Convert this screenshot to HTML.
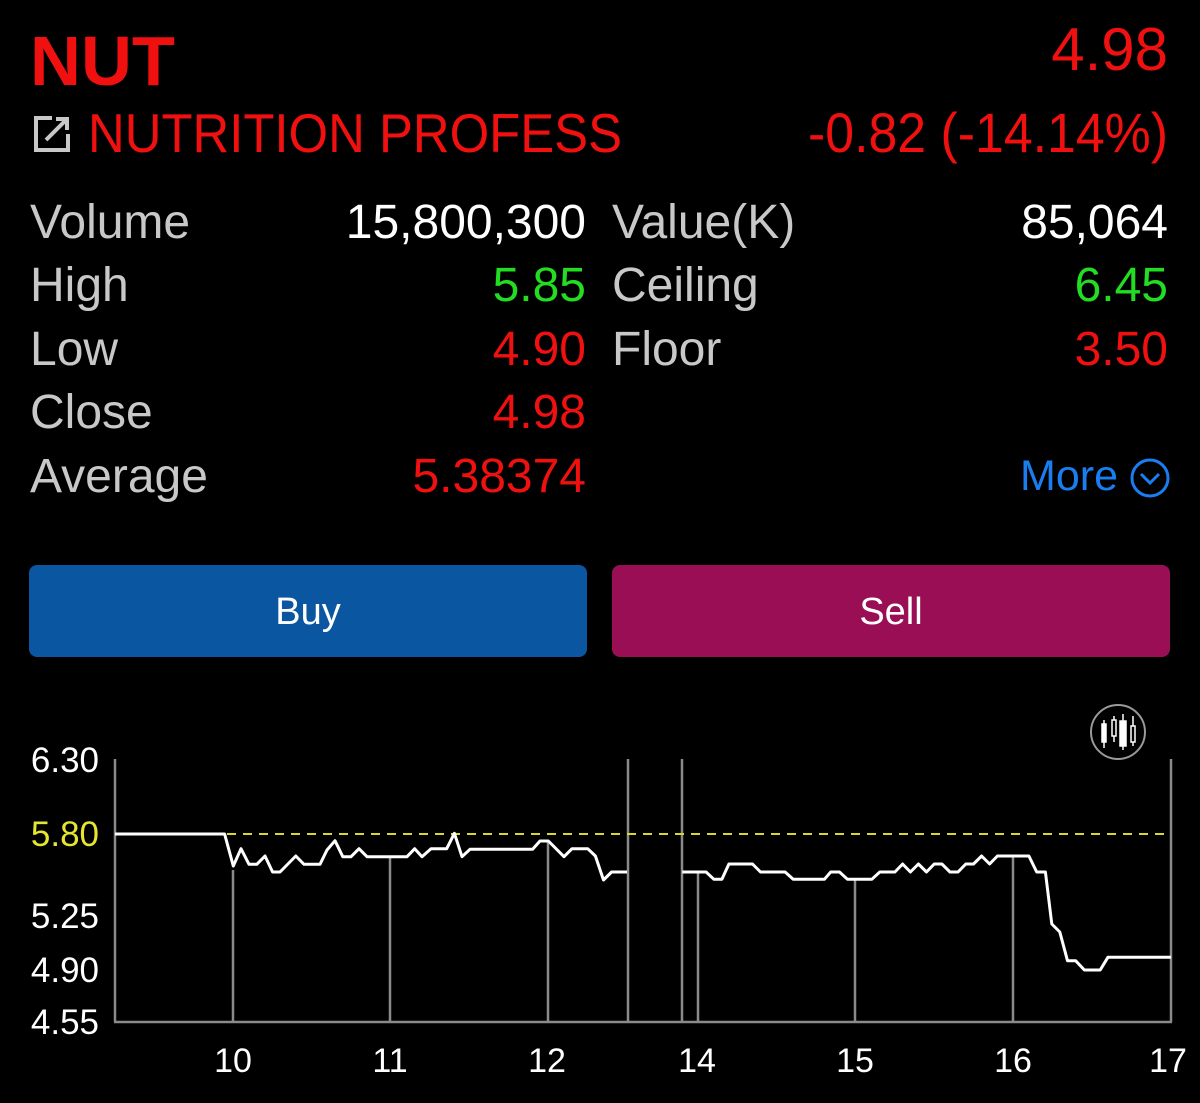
<!DOCTYPE html>
<html><head><meta charset="utf-8"><style>
html,body{margin:0;padding:0;background:#000;}
svg{display:block;}
text{font-family:"Liberation Sans",sans-serif;}
</style></head><body>
<svg width="1200" height="1103" viewBox="0 0 1200 1103" xmlns="http://www.w3.org/2000/svg">
<rect width="1200" height="1103" fill="#000"/>
<text x="30" y="85" font-size="70" font-weight="bold" fill="#f01010" textLength="145" lengthAdjust="spacingAndGlyphs">NUT</text>
<text x="1168" y="70" font-size="60" fill="#f01010" text-anchor="end">4.98</text>
<g stroke="#c8c8c8" stroke-width="4" fill="none">
<path d="M52 118 H36 V150 H68 V134"/>
<path d="M46 140 L66 120 M56 119 H67 V130"/>
</g>
<text x="88" y="152" font-size="55" fill="#f01010" textLength="534" lengthAdjust="spacingAndGlyphs">NUTRITION PROFESS</text>
<text x="1168" y="152" font-size="56" fill="#f01010" text-anchor="end" textLength="360" lengthAdjust="spacingAndGlyphs">-0.82 (-14.14%)</text>

<g font-size="48" fill="#c8c8c8">
<text x="30" y="238">Volume</text>
<text x="30" y="301">High</text>
<text x="30" y="365">Low</text>
<text x="30" y="428">Close</text>
<text x="30" y="492">Average</text>
<text x="612" y="238">Value(K)</text>
<text x="612" y="301">Ceiling</text>
<text x="612" y="365">Floor</text>
</g>
<g font-size="48" text-anchor="end">
<text x="586" y="238" fill="#fff">15,800,300</text>
<text x="586" y="301" fill="#22dd22">5.85</text>
<text x="586" y="365" fill="#f01010">4.90</text>
<text x="586" y="428" fill="#f01010">4.98</text>
<text x="586" y="492" fill="#f01010">5.38374</text>
<text x="1168" y="238" fill="#fff">85,064</text>
<text x="1168" y="301" fill="#22dd22">6.45</text>
<text x="1168" y="365" fill="#f01010">3.50</text>
</g>
<text x="1118" y="490" font-size="43" fill="#1a7ef0" text-anchor="end">More</text>
<circle cx="1150" cy="478" r="18" fill="none" stroke="#1a7ef0" stroke-width="3"/>
<path d="M1141 474 L1150 483 L1159 474" fill="none" stroke="#1a7ef0" stroke-width="3"/>

<rect x="29" y="565" width="558" height="92" rx="8" fill="#0a56a0"/>
<rect x="612" y="565" width="558" height="92" rx="8" fill="#9a0e55"/>
<text x="308" y="624" font-size="38" fill="#fff" text-anchor="middle">Buy</text>
<text x="891" y="624" font-size="38" fill="#fff" text-anchor="middle">Sell</text>

<circle cx="1118" cy="732" r="27" fill="none" stroke="#999" stroke-width="2"/>
<g fill="#fff" stroke="#fff" stroke-width="1.5">
<line x1="1104" y1="720" x2="1104" y2="748"/><rect x="1102" y="724" width="4" height="18"/>
<line x1="1114" y1="716" x2="1114" y2="742"/><rect x="1112" y="720" width="4" height="16" fill="#000"/>
<line x1="1123" y1="714" x2="1123" y2="750"/><rect x="1120" y="721" width="6" height="25"/>
<line x1="1133" y1="716" x2="1133" y2="746"/><rect x="1131" y="726" width="4" height="16" fill="#000"/>
</g>
<g stroke="#8a8a8a" stroke-width="2.5" fill="none">
<line x1="115" y1="759" x2="115" y2="1022"/>
<line x1="233" y1="870" x2="233" y2="1022"/>
<line x1="390" y1="856" x2="390" y2="1022"/>
<line x1="548" y1="841" x2="548" y2="1022"/>
<line x1="628" y1="759" x2="628" y2="1022"/>
<line x1="682" y1="759" x2="682" y2="1022"/>
<line x1="698" y1="872" x2="698" y2="1022"/>
<line x1="855" y1="879" x2="855" y2="1022"/>
<line x1="1013" y1="856" x2="1013" y2="1022"/>
<line x1="1171" y1="759" x2="1171" y2="1022"/>
<line x1="114" y1="1022" x2="1172" y2="1022"/>
</g>
<line x1="115" y1="834" x2="1171" y2="834" stroke="#d8d830" stroke-width="2" stroke-dasharray="9,7"/>
<g fill="none" stroke="#fff" stroke-width="3" stroke-linejoin="round">
<polyline points="115,834 224.6,834 233.3,866 241,848.7 249,864.3 256.8,864.3 265,856 272.6,872 280,872 295.8,856 304,864.3 320,864.3 327,850 335,840.7 342.8,856.7 351,856.7 359,848.7 367,856.7 407,856.7 414.7,848.7 422,856.7 431,848.7 446.7,848.7 454.4,833.3 462,856.7 470,849.3 532.6,849.3 540,841 548.4,841 564,856.7 572,848.7 587.7,848.7 595.4,856 603.5,880 611.6,872 627,872"/>
<polyline points="682.3,872 706.1,872 713.9,879.3 721.9,879.3 728.9,864 752.5,864 760.5,872 785.1,872 793.2,879.3 824.4,879.3 830.7,872 839.5,872 847.5,879.3 871.8,879.3 879.8,872 894.9,872 902.6,864 910.4,872 918.4,864 926.5,872 934.2,864 941.9,864 950,872 958,872 965.8,864 973.5,864 981.6,856 989.6,864 997.4,856 1028.9,856 1036.7,872 1045.4,872 1051.8,924 1059.8,932 1067.5,960.7 1075.6,960.7 1084.4,970 1100.2,970 1107.9,957.3 1171,957.3"/>
</g>
<g font-size="35" text-anchor="end" fill="#fff">
<text x="99" y="772">6.30</text>
<text x="99" y="846" fill="#e6e630">5.80</text>
<text x="99" y="928">5.25</text>
<text x="99" y="982">4.90</text>
<text x="99" y="1034">4.55</text>
</g>
<g font-size="34" text-anchor="middle" fill="#fff">
<text x="233" y="1072">10</text>
<text x="390" y="1072">11</text>
<text x="547" y="1072">12</text>
<text x="697" y="1072">14</text>
<text x="855" y="1072">15</text>
<text x="1013" y="1072">16</text>
<text x="1168" y="1072">17</text>
</g>
</svg>
</body></html>
